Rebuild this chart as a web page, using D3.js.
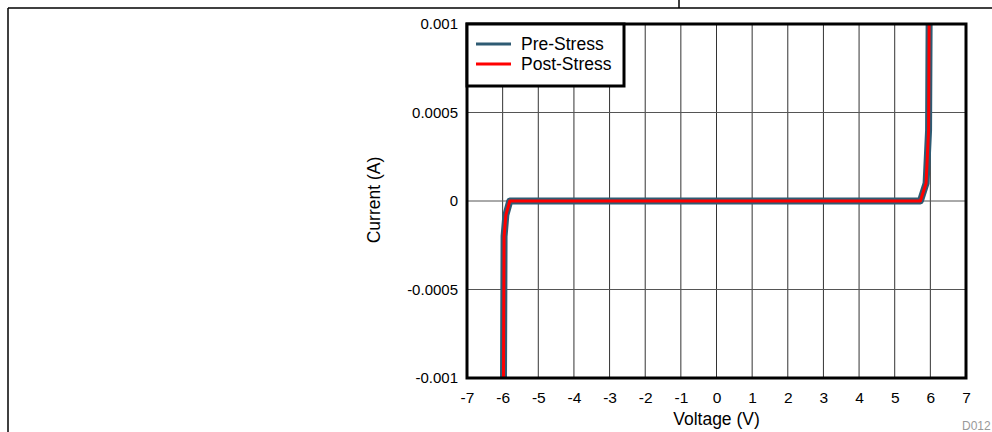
<!DOCTYPE html>
<html>
<head>
<meta charset="utf-8">
<script src="https://cdn.jsdelivr.net/npm/d3@7"></script>
<style>
  body { margin: 0; background: #fff; }
  text { font-family: "Liberation Sans", Arial, sans-serif; }
</style>
</head>
<body>
<svg id="chart" width="992" height="432"></svg>
<script>
// I-V sweep, pre and post stress
var seriesNames = ["Pre-Stress", "Post-Stress"];
var seriesColors = ["#2e5b73", "#ff0000"];
var preVoltage  = [-5.98, -5.96, -5.91, -5.8, -3, 0, 3, 5.72, 5.88, 5.95, 5.97];
var preCurrent  = [-0.0012, -0.0002, -0.00008, 0, 0, 0, 0, 0, 0.0001, 0.0004, 0.0012];
var postVoltage = [-5.98, -5.96, -5.91, -5.8, -3, 0, 3, 5.72, 5.88, 5.95, 5.97];
var postCurrent = [-0.0012, -0.0002, -0.00008, 0, 0, 0, 0, 0, 0.0001, 0.0004, 0.0012];
var xTicks = [-7, -6, -5, -4, -3, -2, -1, 0, 1, 2, 3, 4, 5, 6, 7];
var yTicks = [-0.001, -0.0005, 0, 0.0005, 0.001];
var yTickLabels = ["-0.001", "-0.0005", "0", "0.0005", "0.001"];

var svg = d3.select("#chart");
var plotLeft = 467, plotRight = 966, plotTop = 24, plotBottom = 378;

// page frame
svg.append("line").attr("x1", 8).attr("x2", 992).attr("y1", 8).attr("y2", 8)
   .attr("stroke", "#000").attr("stroke-width", 1.5);
svg.append("line").attr("x1", 8).attr("x2", 8).attr("y1", 8).attr("y2", 432)
   .attr("stroke", "#000").attr("stroke-width", 1.5);
svg.append("line").attr("x1", 679).attr("x2", 679).attr("y1", 0).attr("y2", 8)
   .attr("stroke", "#000").attr("stroke-width", 1.5);

var x = d3.scaleLinear().domain([-7, 7]).range([plotLeft, plotRight]);
var y = d3.scaleLinear().domain([-0.001, 0.001]).range([plotBottom, plotTop]);

// grid
svg.append("g")
   .selectAll("line").data(xTicks.slice(1, -1)).join("line")
   .attr("x1", function(d) { return x(d); }).attr("x2", function(d) { return x(d); })
   .attr("y1", plotTop).attr("y2", plotBottom)
   .attr("stroke", "#333").attr("stroke-width", 1);
svg.append("g")
   .selectAll("line").data(yTicks.slice(1, -1)).join("line")
   .attr("x1", plotLeft).attr("x2", plotRight)
   .attr("y1", function(d) { return y(d); }).attr("y2", function(d) { return y(d); })
   .attr("stroke", "#555").attr("stroke-width", 1);

// axes, labels only
var xAxis = svg.append("g").attr("transform", "translate(0," + plotBottom + ")")
   .call(d3.axisBottom(x).tickValues(xTicks).tickSize(0).tickPadding(14)
     .tickFormat(function(d) { return String(d); }));
var yAxis = svg.append("g").attr("transform", "translate(" + plotLeft + ",0)")
   .call(d3.axisLeft(y).tickValues(yTicks).tickSize(0).tickPadding(9)
     .tickFormat(function(d, i) { return yTickLabels[i]; }));
[xAxis, yAxis].forEach(function(a) {
  a.select(".domain").remove();
  a.selectAll("text").attr("font-size", 15.5).attr("fill", "#000")
   .attr("font-family", "Liberation Sans, Arial, sans-serif");
});
yAxis.selectAll("text").attr("font-size", 15);

svg.append("clipPath").attr("id", "plotClip")
   .append("rect").attr("x", plotLeft).attr("y", plotTop)
   .attr("width", plotRight - plotLeft).attr("height", plotBottom - plotTop);

var line = d3.line()
  .x(function(d) { return x(d[0]); })
  .y(function(d) { return y(d[1]); });

var pre = d3.zip(preVoltage, preCurrent),
    post = d3.zip(postVoltage, postCurrent);

var curves = svg.append("g").attr("clip-path", "url(#plotClip)");
curves.append("path").datum(pre).attr("d", line)
   .attr("fill", "none").attr("stroke", seriesColors[0]).attr("stroke-width", 7)
   .attr("stroke-linejoin", "round");
curves.append("path").datum(post).attr("d", line)
   .attr("fill", "none").attr("stroke", seriesColors[1]).attr("stroke-width", 3)
   .attr("stroke-linejoin", "round");

// plot border
svg.append("rect").attr("x", plotLeft).attr("y", plotTop)
   .attr("width", plotRight - plotLeft).attr("height", plotBottom - plotTop)
   .attr("fill", "none").attr("stroke", "#000").attr("stroke-width", 3);

// legend
var legend = svg.append("g");
legend.append("rect").attr("x", plotLeft).attr("y", plotTop)
   .attr("width", 157).attr("height", 62)
   .attr("fill", "#fff").attr("stroke", "#000").attr("stroke-width", 3);
seriesNames.forEach(function(name, i) {
  var ly = 44 + i * 20;
  legend.append("line").attr("x1", 476).attr("x2", 511).attr("y1", ly).attr("y2", ly)
     .attr("stroke", seriesColors[i]).attr("stroke-width", 3);
  legend.append("text").attr("x", 521).attr("y", ly + 6)
     .attr("font-size", 17.5).attr("fill", "#000").text(name);
});

// axis titles
svg.append("text").attr("x", (plotLeft + plotRight) / 2).attr("y", 425)
   .attr("text-anchor", "middle").attr("font-size", 17.5).text("Voltage (V)");
svg.append("text")
   .attr("transform", "translate(380,200) rotate(-90)")
   .attr("text-anchor", "middle").attr("font-size", 17.5).text("Current (A)");

svg.append("text").attr("x", 962).attr("y", 430)
   .attr("font-size", 12).attr("fill", "#999").text("D012");
</script>
</body>
</html>
